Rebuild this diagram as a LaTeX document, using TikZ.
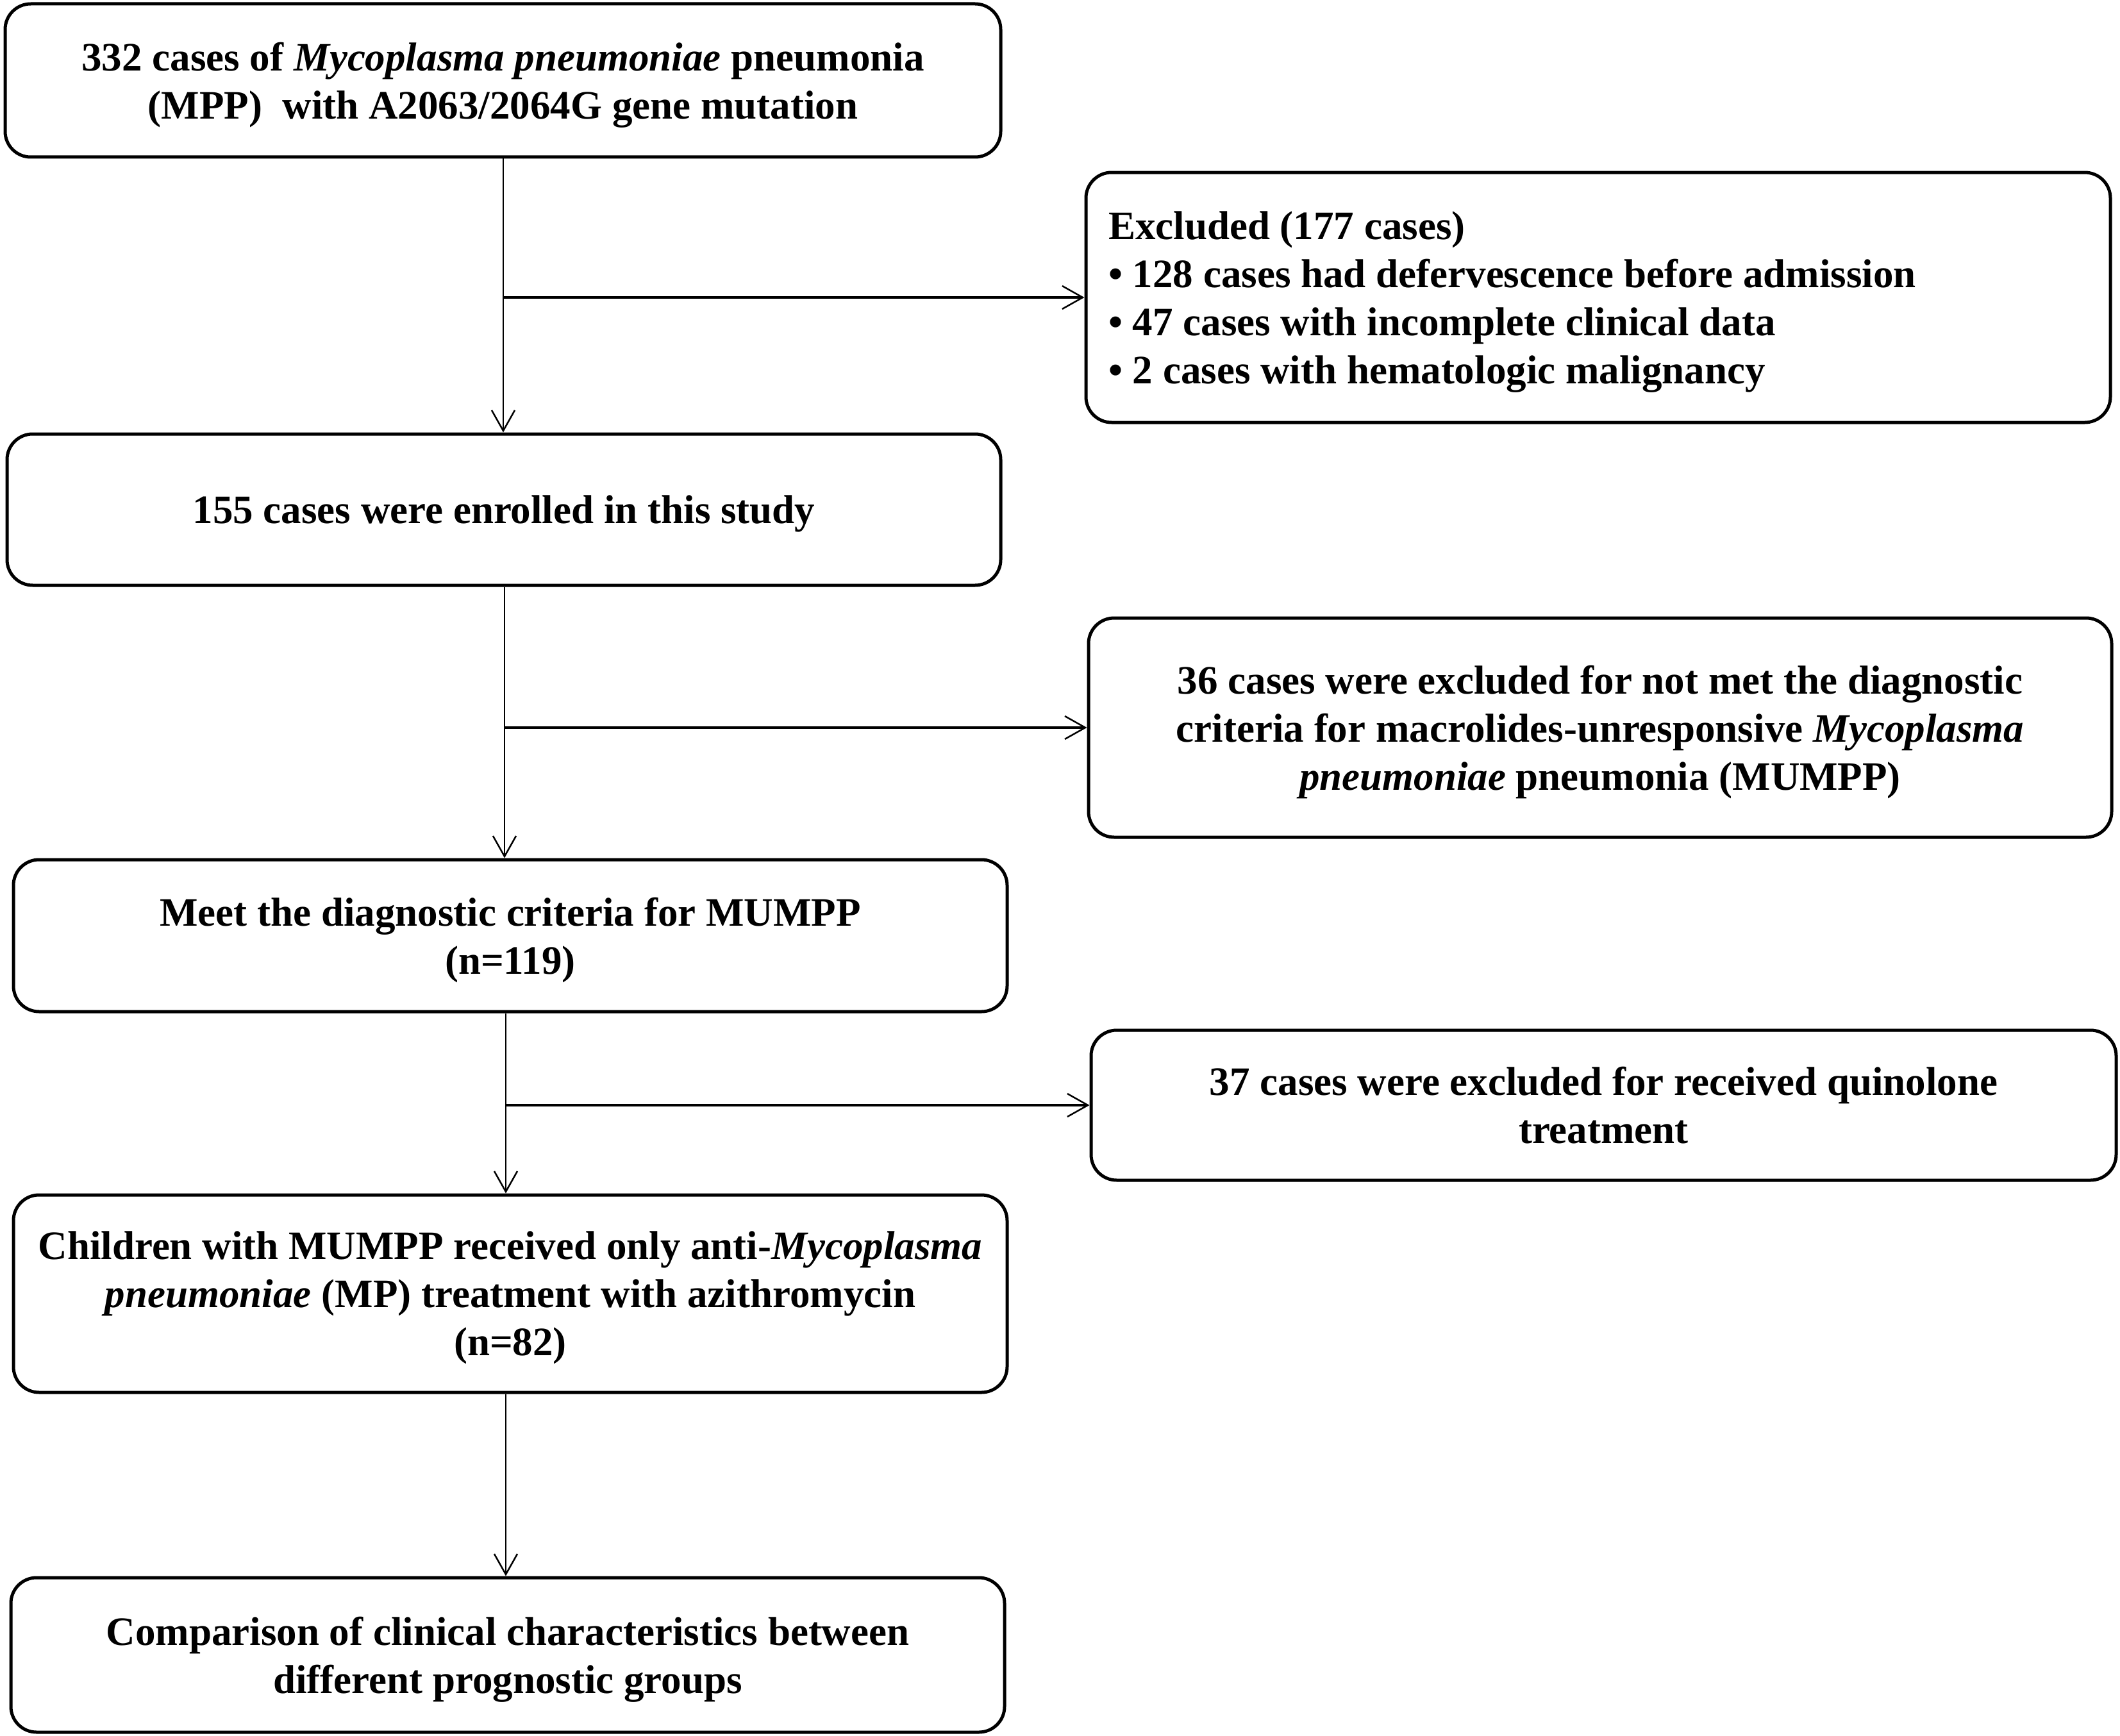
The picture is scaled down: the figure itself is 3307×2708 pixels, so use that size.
\documentclass[tikz,border=0pt]{standalone}
\usepackage{fontspec}
\setmainfont{Liberation Serif}
\usetikzlibrary{arrows.meta,calc}
\begin{document}
\begin{tikzpicture}[x=1pt,y=-1pt,
  box/.style={draw, line width=5pt, rounded corners=40pt, align=center, text depth=0pt,
    font=\fontsize{63}{75}\selectfont\bfseries, inner sep=0pt, minimum width=1550pt},
  vline/.style={line width=2.5pt, -{Straight Barb[length=32pt,width=36pt,line width=2.5pt]}},
  hline/.style={line width=3.5pt, -{Straight Barb[length=32pt,width=36pt,line width=2.5pt]}}]
\useasboundingbox (0,0) rectangle (3307,2708);

\node[box, minimum width=1553pt, minimum height=239pt] (b1) at (784.5,125.5)
  {332 cases of \textit{Mycoplasma pneumoniae} pneumonia\\(MPP)\ \ with A2063/2064G gene mutation};
\node[box, align=left, minimum width=1598pt, minimum height=390pt] (ex1) at (2493,464)
  {\makebox[1528pt][l]{Excluded (177 cases)}\\• 128 cases had defervescence before admission\\• 47 cases with incomplete clinical data\\• 2 cases with hematologic malignancy};
\node[box, minimum height=236pt] (b2) at (786,795) {155 cases were enrolled in this study};
\node[box, minimum width=1596pt, minimum height=342pt] (ex2) at (2496,1135)
  {36 cases were excluded for not met the diagnostic\\criteria for macrolides-unresponsive \textit{Mycoplasma}\\\textit{pneumoniae} pneumonia (MUMPP)};
\node[box, minimum height=237pt] (b3) at (796,1459.5) {Meet the diagnostic criteria for MUMPP\\(n=119)};
\node[box, minimum width=1599pt, minimum height=234pt] (ex3) at (2501.5,1724)
  {37 cases were excluded for received quinolone\\treatment};
\node[box, minimum height=308pt] (b4) at (796,2018)
  {Children with MUMPP received only anti-\textit{Mycoplasma}\\\textit{pneumoniae} (MP) treatment with azithromycin\\(n=82)};
\node[box, minimum height=241pt] (b5) at (792,2581.5)
  {Comparison of clinical characteristics between\\different prognostic groups};

\coordinate (c1) at (785,0);
\coordinate (c2) at (787,0);
\coordinate (c3) at (789,0);

\draw[vline] (b1.south -| c1) -- (b2.north -| c1);
\draw[hline] (c1 |- ex1.west) -- (ex1.west);
\draw[vline] (b2.south -| c2) -- (b3.north -| c2);
\draw[hline] (c2 |- ex2.west) -- (ex2.west);
\draw[vline] (b3.south -| c3) -- (b4.north -| c3);
\draw[hline] (c3 |- ex3.west) -- (ex3.west);
\draw[vline] (b4.south -| c3) -- (b5.north -| c3);
\end{tikzpicture}
\end{document}
